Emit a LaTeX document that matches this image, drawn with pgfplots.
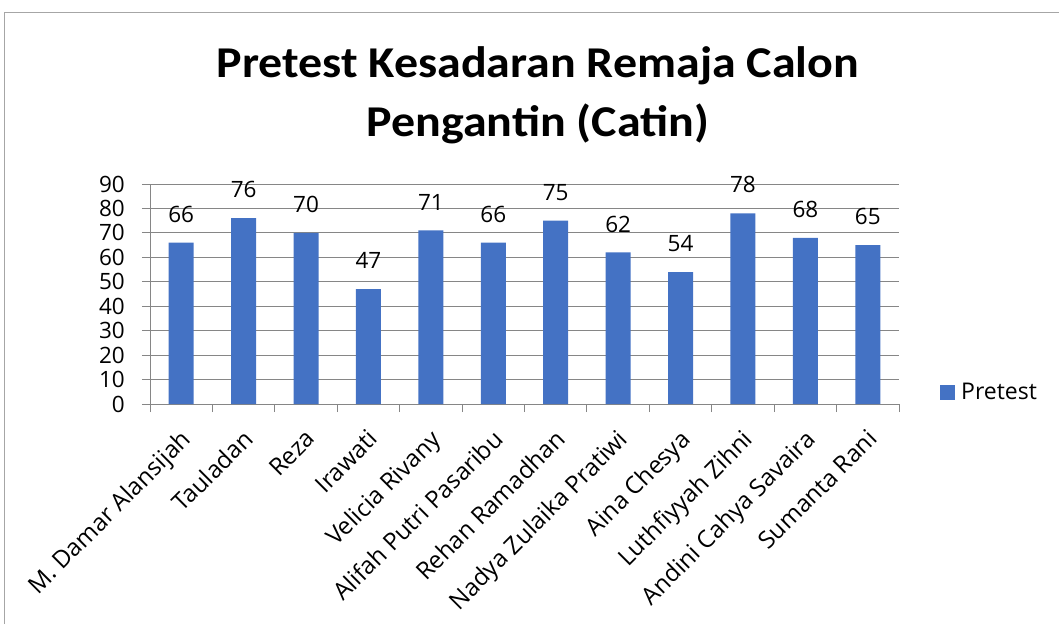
\documentclass[border=0pt]{standalone}
\usepackage{fontspec}
\setmainfont{Open Sans}
\newfontfamily\titlefont{Carlito}
\usepackage{pgfplots}
\pgfplotsset{compat=1.18}
\definecolor{barblue}{HTML}{4472C4}
\definecolor{gridgray}{HTML}{868686}
\definecolor{bordergray}{HTML}{A6A6A6}
\begin{document}
\begin{tikzpicture}[x=1pt,y=1pt]
\useasboundingbox (0pt,0pt) rectangle (1059pt,624pt);
\draw[bordergray, line width=1.2pt] (4.5pt,0pt) -- (4.5pt,611.5pt) -- (1059pt,611.5pt);
\node[font=\titlefont\fontsize{44}{60}\selectfont\bfseries, anchor=base, xscale=1.09, inner sep=0pt] at (538pt,546pt) {Pretest Kesadaran Remaja Calon};
\node[font=\titlefont\fontsize{44}{60}\selectfont\bfseries, anchor=base, xscale=1.09, inner sep=0pt] at (538pt,487pt) {Pengantin (Catin)};
\begin{axis}[
  at={(150pt,220pt)}, anchor=south west,
  scale only axis, width=749pt, height=220pt,
  xmin=-0.5, xmax=11.5, ymin=0, ymax=90,
  /pgf/number format/assume math mode=true,
  axis x line*=bottom, axis y line*=left,
  axis line style={gridgray, line width=1pt},
  ytick={0,10,...,90},
  ymajorgrids, grid style={gridgray, line width=1pt},
  xtick={0,...,11},
  xticklabels={M. Damar Alansijah, Tauladan, Reza, Irawati, Velicia Rivany, Alifah Putri Pasaribu, Rehan Ramadhan, Nadya Zulaika Pratiwi, Aina Chesya, Luthfiyyah Zihni, Andini Cahya Savaira, Sumanta Rani},
  minor xtick={-0.5,0.5,...,11.5},
  major x tick style={draw=none},
  tick align=outside, major tick length=8pt, minor tick length=8pt,
  tick style={gridgray, line width=1pt},
  x tick label style={rotate=45, anchor=north east, font=\fontsize{24}{28}\selectfont, inner sep=0pt, xshift=-12.5pt, yshift=-10pt},
  y tick label style={font=\fontsize{22.5}{27}\selectfont, inner sep=0pt, xshift=-17pt},
  ybar, bar width=25pt,
  nodes near coords,
  nodes near coords style={font=\fontsize{22.5}{27}\selectfont, anchor=south, inner sep=0pt, yshift=20pt, text=black},
  legend style={at={(1.0547,0.0545)}, anchor=west, draw=none, fill=none, font=\fontsize{23}{28}\selectfont, inner sep=0pt},
  legend image code/.code={\fill[barblue] (0pt,-7.5pt) rectangle (15pt,7.5pt); \path (19pt,0pt);},
]
\addplot[fill=barblue, draw=none] coordinates {(0,66) (1,76) (2,70) (3,47) (4,71) (5,66) (6,75) (7,62) (8,54) (9,78) (10,68) (11,65)};
\addlegendentry{Pretest}
\end{axis}
\end{tikzpicture}
\end{document}
